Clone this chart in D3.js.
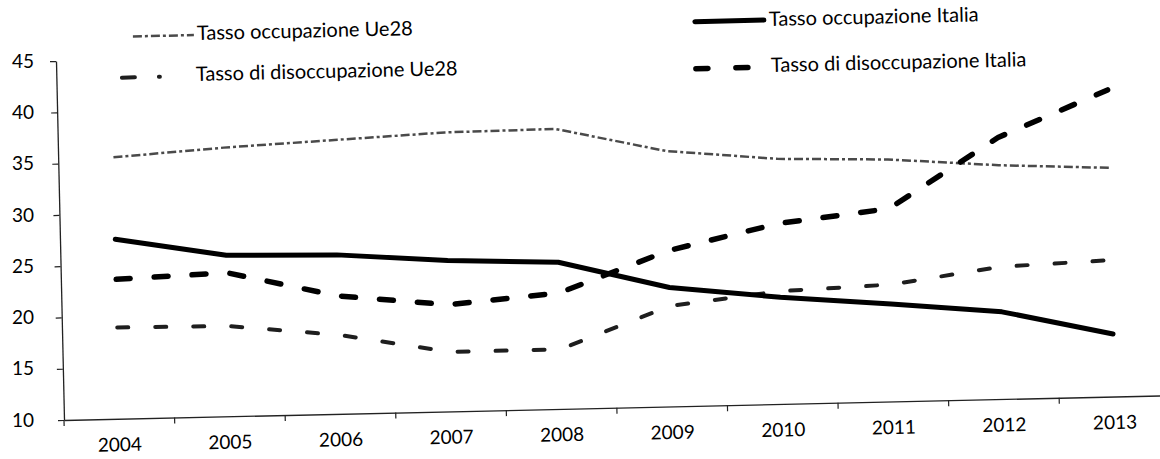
<!DOCTYPE html>
<html>
<head>
<meta charset="utf-8">
<script src="https://cdn.jsdelivr.net/npm/d3@7"></script>
<style>
  body { margin: 0; background: #fff; }
  svg { display: block; }
  text { font-family: Lato, "Open Sans", sans-serif; fill: #000; }
</style>
</head>
<body>
<svg id="chart" width="1160" height="459"></svg>
<script>
// Tassi giovanili, Italia e Ue28, 2004-2013
const years = ["2004", "2005", "2006", "2007", "2008", "2009", "2010", "2011", "2012", "2013"];
const occupazioneItalia    = [27.5, 25.7, 25.5, 24.7, 24.3, 21.6, 20.4, 19.5, 18.5, 16.1];
const disoccupazioneItalia = [23.6, 24.0, 21.5, 20.4, 21.3, 25.2, 27.6, 28.8, 35.5, 39.9];
const occupazioneUe28      = [35.5, 36.2, 36.7, 37.2, 37.3, 34.9, 33.9, 33.6, 32.8, 32.3];
const disoccupazioneUe28   = [18.9, 18.8, 17.7, 15.8, 15.8, 19.8, 21.0, 21.4, 22.9, 23.3];
const yTicks = [10, 15, 20, 25, 30, 35, 40, 45];

const W = 1160, H = 459;
const ox = 64, oy = 420;      // chart origin
const tilt = -1.28;           // the page is slightly skewed

const svg = d3.select("#chart");
svg.append("rect").attr("width", W).attr("height", H).attr("fill", "#fff");

const x = d3.scaleBand().domain(years).range([ox, 1170]);
const y = d3.scaleLinear().domain([10, 45]).range([oy, 61]);
const cx = d => x(d) + x.bandwidth() / 2;

const plot = svg.append("g").attr("transform", `rotate(${tilt},${ox},${oy})`);

// series styles
const series = [
  { name: "Tasso occupazione Ue28", values: occupazioneUe28,
    stroke: "#4a4a4a", width: 2.5, dash: "9,3,3,3", cap: "butt" },
  { name: "Tasso di disoccupazione Ue28", values: disoccupazioneUe28,
    stroke: "#1e1e1e", width: 4, dash: "11,27", cap: "round" },
  { name: "Tasso occupazione Italia", values: occupazioneItalia,
    stroke: "#000", width: 5, dash: null, cap: "round" },
  { name: "Tasso di disoccupazione Italia", values: disoccupazioneItalia,
    stroke: "#000", width: 5.5, dash: "14,24", cap: "round" }
];

// y axis (line + ticks inside the skewed frame)
const yAxis = plot.append("g")
  .attr("transform", `translate(${ox},0)`)
  .call(d3.axisLeft(y).tickValues(yTicks).tickSize(6).tickSizeOuter(0).tickFormat(""));
yAxis.select(".domain").attr("stroke", "#222").attr("stroke-width", 1.3);
yAxis.selectAll(".tick line").attr("stroke", "#222").attr("stroke-width", 1.2);

// x axis
const xAxis = plot.append("g")
  .attr("transform", `translate(0,${oy})`)
  .call(d3.axisBottom(x).tickSize(0).tickSizeOuter(0).tickPadding(19));
xAxis.select(".domain").attr("stroke", "#222").attr("stroke-width", 1.3);
xAxis.selectAll(".tick text")
  .style("font-family", "Lato, 'Open Sans', sans-serif")
  .attr("font-size", 19).attr("fill", "#000");

// category boundary ticks
plot.append("g").selectAll("line")
  .data(years)
  .join("line")
  .attr("x1", d => x(d)).attr("x2", d => x(d))
  .attr("y1", oy).attr("y2", oy + 6)
  .attr("stroke", "#222").attr("stroke-width", 1.2);

// y labels (printed upright)
svg.append("g").selectAll("text")
  .data(yTicks)
  .join("text")
  .attr("x", 34)
  .attr("y", d => y(d))
  .attr("dy", "0.35em")
  .attr("text-anchor", "end")
  .attr("font-size", 19)
  .text(d => d);

// lines
const line = d3.line()
  .x((d, i) => cx(years[i]))
  .y(d => y(d))
  .curve(d3.curveLinear);

plot.append("g").selectAll("path")
  .data(series)
  .join("path")
  .attr("d", s => line(s.values))
  .attr("fill", "none")
  .attr("stroke", s => s.stroke)
  .attr("stroke-width", s => s.width)
  .attr("stroke-dasharray", s => s.dash)
  .attr("stroke-linecap", s => s.cap)
  .attr("stroke-linejoin", "round");

// legend
const legendItems = [
  { s: series[0], x1: 133, x2: 194, ty: 40, sy: 35, tx: 197, dash: "9,3,3,3" },
  { s: series[1], x1: 122, x2: 160, ty: 81, sy: 76, tx: 196, dash: "13,24" },
  { s: series[2], x1: 695, x2: 764, ty: 26, sy: 20, tx: 769, dash: null },
  { s: series[3], x1: 696, x2: 750, ty: 72, sy: 67, tx: 771, dash: "12,28" }
];

const legend = svg.append("g");
legendItems.forEach(it => {
  const g = legend.append("g")
    .attr("transform", `rotate(${tilt},${it.tx},${it.ty})`);
  g.append("line")
    .attr("x1", it.x1).attr("x2", it.x2)
    .attr("y1", it.sy).attr("y2", it.sy)
    .attr("stroke", it.s.stroke)
    .attr("stroke-width", it.s.width)
    .attr("stroke-dasharray", it.dash)
    .attr("stroke-linecap", it.s.cap);
  g.append("text")
    .attr("x", it.tx).attr("y", it.ty)
    .attr("font-size", 20)
    .text(it.s.name);
});
</script>
</body>
</html>
